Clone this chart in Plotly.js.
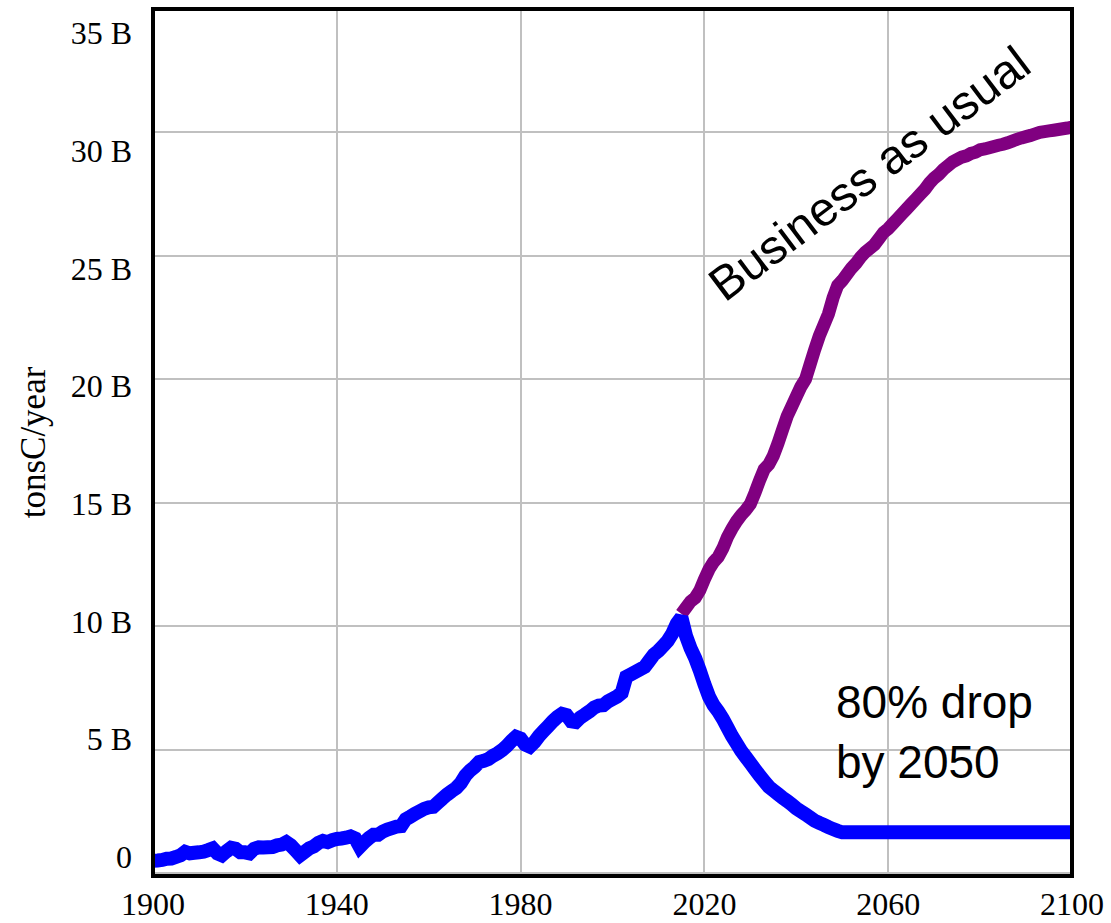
<!DOCTYPE html>
<html>
<head>
<meta charset="utf-8">
<script src="https://cdn.plot.ly/plotly-3.0.1.min.js"></script>
<style>
  html, body { margin: 0; padding: 0; background: #ffffff; }
  #chart { width: 1111px; height: 923px; }
</style>
</head>
<body>
<div id="chart"></div>
<script>
// Historical emissions (blue), 1900-2015, billions of tons C per year
const histYears = [
  1900,1901,1902,1903,1904,1905,1906,1907,1908,1909,
  1910,1911,1912,1913,1914,1915,1916,1917,1918,1919,
  1920,1921,1922,1923,1924,1925,1926,1927,1928,1929,
  1930,1931,1932,1933,1934,1935,1936,1937,1938,1939,
  1940,1941,1942,1943,1944,1945,1946,1947,1948,1949,
  1950,1951,1952,1953,1954,1955,1956,1957,1958,1959,
  1960,1961,1962,1963,1964,1965,1966,1967,1968,1969,
  1970,1971,1972,1973,1974,1975,1976,1977,1978,1979,
  1980,1981,1982,1983,1984,1985,1986,1987,1988,1989,
  1990,1991,1992,1993,1994,1995,1996,1997,1998,1999,
  2000,2001,2002,2003,2004,2005,2006,2007,2008,2009,
  2010,2011,2012,2013,2014,2015
];
const histValues = [
  0.50,0.51,0.53,0.58,0.59,0.65,0.72,0.86,0.80,0.82,
  0.84,0.87,0.93,1.00,0.80,0.72,0.88,1.02,0.98,0.84,
  0.84,0.80,0.98,1.04,1.03,1.04,1.05,1.12,1.15,1.25,
  1.12,0.92,0.72,0.86,1.00,1.08,1.22,1.30,1.25,1.33,
  1.38,1.40,1.43,1.48,1.40,1.06,1.25,1.42,1.55,1.55,
  1.68,1.76,1.82,1.88,1.90,2.18,2.28,2.40,2.50,2.60,
  2.66,2.68,2.85,3.02,3.18,3.32,3.45,3.65,3.95,4.15,
  4.30,4.50,4.55,4.62,4.75,4.85,4.98,5.15,5.35,5.52,
  5.45,5.20,5.12,5.30,5.55,5.75,5.95,6.15,6.32,6.45,
  6.40,6.15,6.12,6.30,6.42,6.55,6.70,6.78,6.80,6.95,
  7.05,7.15,7.30,7.95,8.05,8.15,8.25,8.35,8.60,8.85,
  9.00,9.20,9.40,9.70,10.10,10.35
];
// 80% drop by 2050 scenario (blue continuation)
const policyYears = [
  2016,2017,2018,2019,2020,2021,2022,2023,2024,2025,
  2026,2027,2028,2029,2030,2031,2032,2033,2034,2035,
  2036,2037,2038,2039,2040,2041,2042,2043,2044,2045,
  2046,2047,2048,2049,2050,2100
];
const policyValues = [
  9.60,9.10,8.70,8.20,7.65,7.15,6.80,6.55,6.25,5.90,
  5.55,5.25,4.95,4.70,4.45,4.20,3.95,3.72,3.50,3.35,
  3.20,3.05,2.92,2.78,2.62,2.50,2.38,2.25,2.12,2.03,
  1.95,1.86,1.78,1.71,1.65,1.65
];
// Business as usual scenario (purple), 2015-2100
const bauYears = [
  2015,2016,2017,2018,2019,2020,2021,2022,2023,2024,
  2025,2026,2027,2028,2029,2030,2031,2032,2033,2034,
  2035,2036,2037,2038,2039,2040,2041,2042,2043,2044,
  2045,2046,2047,2048,2049,2050,2051,2052,2053,2054,
  2055,2056,2057,2058,2059,2060,2061,2062,2063,2064,
  2065,2066,2067,2068,2069,2070,2071,2072,2073,2074,
  2075,2076,2077,2078,2079,2080,2081,2082,2083,2084,
  2085,2086,2087,2088,2089,2090,2091,2092,2093,2094,
  2095,2096,2097,2098,2099,2100
];
const bauValues = [
  10.50,10.75,11.00,11.15,11.45,11.90,12.30,12.60,12.80,13.15,
  13.60,13.95,14.25,14.50,14.70,14.95,15.40,15.90,16.35,16.55,
  16.90,17.40,17.95,18.50,18.90,19.30,19.70,20.00,20.60,21.20,
  21.75,22.20,22.65,23.30,23.80,24.00,24.25,24.50,24.70,24.95,
  25.15,25.30,25.45,25.70,25.95,26.10,26.30,26.50,26.70,26.90,
  27.10,27.30,27.50,27.70,27.95,28.15,28.30,28.50,28.65,28.80,
  28.90,29.00,29.05,29.15,29.20,29.30,29.33,29.38,29.43,29.48,
  29.52,29.58,29.65,29.72,29.78,29.83,29.88,29.94,30.00,30.03,
  30.06,30.09,30.12,30.15,30.18,30.22
];
// Axis ticks
const xTickVals = [1900, 1940, 1980, 2020, 2060, 2100];
const xTickText = ['1900', '1940', '1980', '2020', '2060', '2100'];
const yTickVals = [0, 5, 10, 15, 20, 25, 30, 35];
const yTickText = ['0', '5 B', '10 B', '15 B', '20 B', '25 B', '30 B', '35 B'];

const blueX = histYears.concat(policyYears);
const blueY = histValues.concat(policyValues);

const traces = [
  {
    x: bauYears, y: bauValues, type: 'scatter', mode: 'lines',
    line: { color: '#800080', width: 13, simplify: false }, hoverinfo: 'skip', showlegend: false
  },
  {
    x: blueX, y: blueY, type: 'scatter', mode: 'lines',
    line: { color: '#0000ff', width: 14, simplify: false }, hoverinfo: 'skip', showlegend: false
  },
  {
    x: [1900], y: [0], yaxis: 'y2', type: 'scatter', mode: 'markers',
    marker: { opacity: 0, size: 1 }, hoverinfo: 'skip', showlegend: false
  }
];

const serif = 'Liberation Serif, Times New Roman, serif';
const sans = 'Liberation Sans, Arial, sans-serif';

const layout = {
  width: 1111, height: 923,
  margin: { l: 153, r: 39, t: 9, b: 47 },
  paper_bgcolor: '#ffffff', plot_bgcolor: '#ffffff',
  showlegend: false,
  xaxis: {
    range: [1900, 2100], tickvals: xTickVals, ticktext: xTickText,
    showgrid: true, gridcolor: '#c0c0c0', gridwidth: 2,
    zeroline: false, showline: false, ticks: '',
    tickfont: { family: serif, size: 32, color: '#000000' },
    ticklabelstandoff: 6
  },
  yaxis: {
    range: [-0.12, 35], tickvals: yTickVals,
    showgrid: true, gridcolor: '#c0c0c0', gridwidth: 2,
    zeroline: false, showline: false, ticks: '', showticklabels: false
  },
  yaxis2: {
    overlaying: 'y', side: 'left', anchor: 'x',
    range: [-0.807, 36.02], tickvals: yTickVals, ticktext: yTickText,
    showgrid: false, zeroline: false, showline: false, ticks: '',
    tickfont: { family: serif, size: 32, color: '#000000' },
    ticklabelstandoff: 20,
    title: { text: 'tonsC/year', font: { family: serif, size: 35, color: '#000000' }, standoff: 14 }
  },
  shapes: [
    { type: 'rect', xref: 'paper', yref: 'paper', x0: 0, x1: 1, y0: 0, y1: 1,
      line: { color: '#000000', width: 4 }, fillcolor: 'rgba(0,0,0,0)', layer: 'above' }
  ],
  annotations: [
    { x: 2055.9, y: 28.33, xref: 'x', yref: 'y', text: 'Business as usual',
      showarrow: false, textangle: -37, xanchor: 'center', yanchor: 'middle',
      font: { family: sans, size: 48, color: '#000000' } },
    { x: 2048.1, y: 5.73, xref: 'x', yref: 'y', text: '80% drop<br>by 2050',
      showarrow: false, align: 'left', xanchor: 'left', yanchor: 'middle',
      font: { family: sans, size: 46, color: '#000000' } }
  ]
};

Plotly.newPlot('chart', traces, layout, { displayModeBar: false, staticPlot: true });
</script>
</body>
</html>
